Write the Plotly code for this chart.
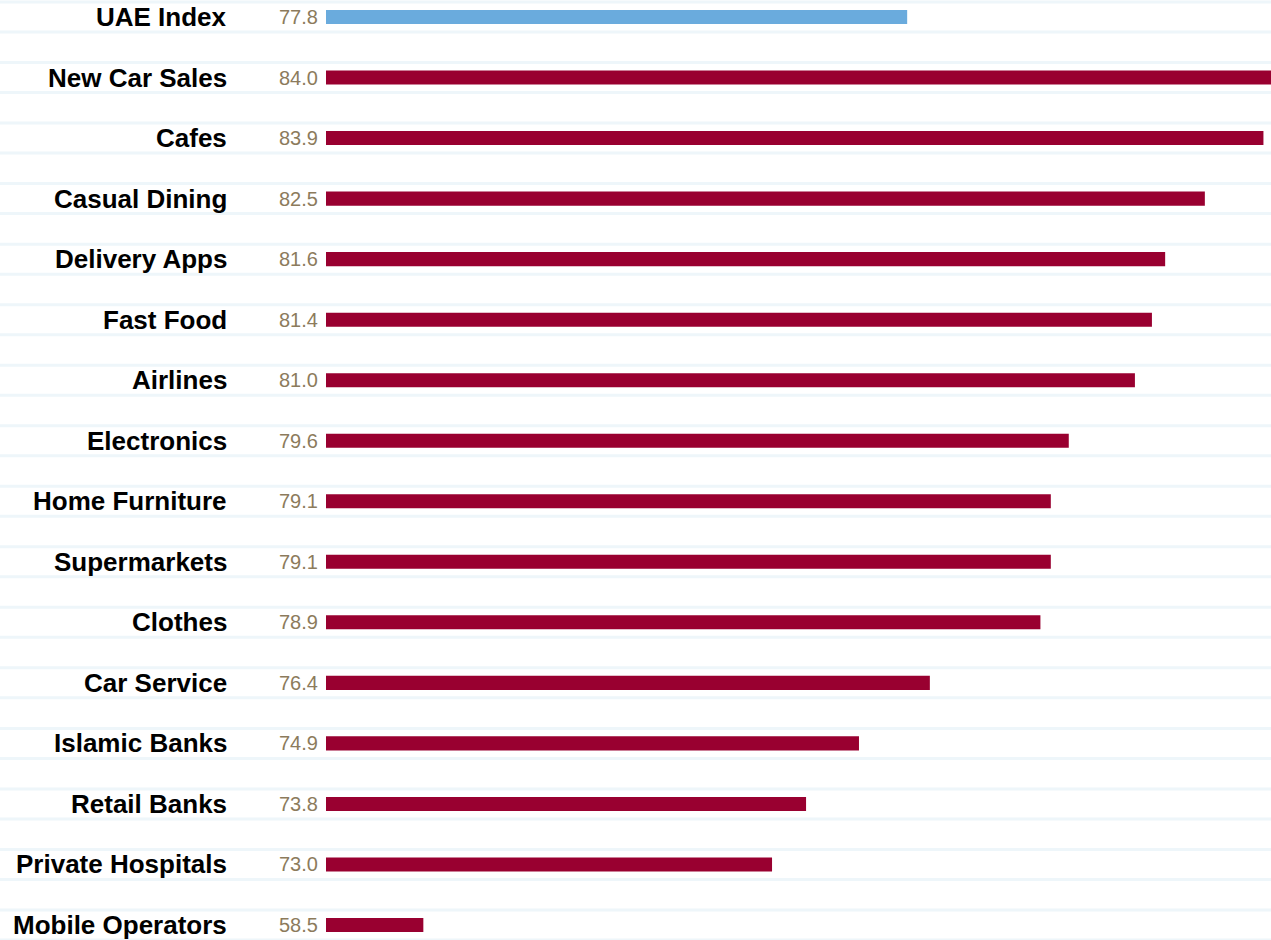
import plotly.graph_objects as go

categories = ["UAE Index", "New Car Sales", "Cafes", "Casual Dining", "Delivery Apps",
              "Fast Food", "Airlines", "Electronics", "Home Furniture", "Supermarkets",
              "Clothes", "Car Service", "Islamic Banks", "Retail Banks",
              "Private Hospitals", "Mobile Operators"]
scores = [77.8, 84.0, 83.9, 82.5, 81.6, 81.4, 81.0, 79.6, 79.1, 79.1, 78.9, 76.4,
          74.9, 73.8, 73.0, 58.5]
# bar lengths as drawn, relative to the longest bar (=100)
bar_lengths = [61.5, 100.0, 99.2, 93.0, 88.8, 87.4, 85.6, 78.6, 76.7, 76.7, 75.6,
               63.9, 56.4, 50.8, 47.2, 10.3]

INDEX_COLOR = "#6aabdd"
SECTOR_COLOR = "#990030"
VALUE_COLOR = "#8c7b5c"
GRID_COLOR = "#eef6fa"

rows = list(range(len(categories)))
colors = [INDEX_COLOR] + [SECTOR_COLOR] * (len(categories) - 1)

fig = go.Figure()
fig.add_trace(go.Bar(
    x=bar_lengths, y=rows, orientation="h",
    marker=dict(color=colors, line=dict(width=0)),
    width=0.232, hoverinfo="skip",
))

shapes = []
for r in rows:
    for off in (-0.248, 0.248):
        shapes.append(dict(type="line", xref="paper", yref="y",
                           x0=-0.35, x1=1.0, y0=r + off, y1=r + off,
                           line=dict(color=GRID_COLOR, width=3), layer="below"))

annotations = []
for r, name, val in zip(rows, categories, scores):
    annotations.append(dict(xref="paper", yref="y", x=0, y=r, xshift=-97,
                            xanchor="right", yanchor="middle", showarrow=False,
                            text=f"<b>{name}</b>",
                            font=dict(family="Liberation Sans, Arial", size=26, color="#000000")))
    annotations.append(dict(xref="paper", yref="y", x=0, y=r, xshift=-6,
                            xanchor="right", yanchor="middle", showarrow=False,
                            text=f"{val:.1f}",
                            font=dict(family="Liberation Sans, Arial", size=20, color=VALUE_COLOR)))

fig.update_layout(
    width=1271, height=940,
    margin=dict(l=326, r=0, t=0, b=0),
    paper_bgcolor="white", plot_bgcolor="white",
    showlegend=False,
    xaxis=dict(range=[0, 100], visible=False, fixedrange=True),
    yaxis=dict(range=[15.248, -0.281], visible=False, fixedrange=True),
    shapes=shapes, annotations=annotations,
    hovermode=False,
)

fig.write_html("out.html", config={"displayModeBar": False},
               post_script="document.body.style.margin='0';document.body.style.overflow='hidden';")
